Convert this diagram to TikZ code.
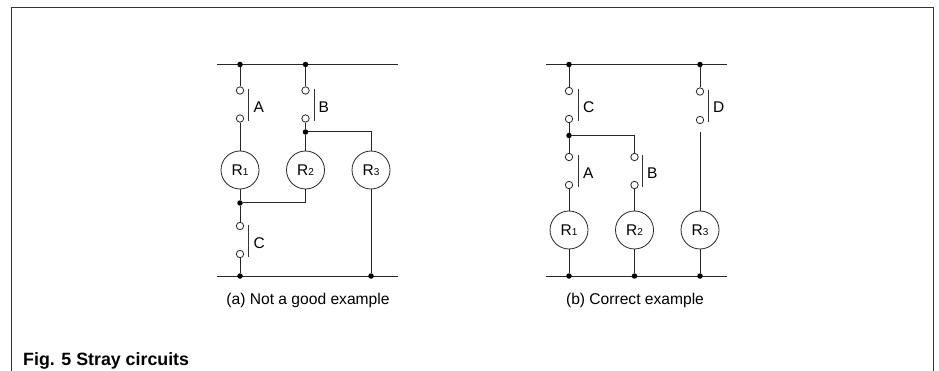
\documentclass[tikz,border=0pt]{standalone}
\usepackage{fontspec}
\setmainfont{Liberation Sans}
\newcommand{\subdigit}[1]{{\fontsize{10}{11}\selectfont #1}}
\begin{document}
\begin{tikzpicture}[x=1pt,y=-1pt,
  wire/.style={line width=1pt,black!85},
  bar/.style={line width=1pt,black!80},
  contact/.style={circle,draw=black!85,line width=0.8pt,fill=white,minimum size=7.4pt,inner sep=0pt},
  junction/.style={circle,fill=black,minimum size=5.5pt,inner sep=0pt},
  res/.style={circle,draw=black!85,line width=0.8pt,fill=white,minimum size=38pt,inner sep=0pt,font=\fontsize{15.5}{17}\selectfont},
  lab/.style={font=\fontsize{15.5}{17}\selectfont,inner sep=0pt},
  captext/.style={font=\fontsize{15.6}{18}\selectfont,inner sep=0pt}]
\useasboundingbox (0,0) rectangle (939,371);
\draw[line width=1pt,black!80] (11,371) -- (11,8) -- (933,8) -- (933,371);
\node[anchor=base west,inner sep=0pt,font=\bfseries\fontsize{17.8}{20}\selectfont] (title) at (23,365) {Fig. 5 Stray circuits};
% (a)
\coordinate (tl) at (217,64.5); \coordinate (tr) at (398,64.5);
\coordinate (bl) at (217,276); \coordinate (br) at (398,276);
\draw[wire] (tl) -- (tr); \draw[wire] (bl) -- (br);
\node[junction] (at1) at (240,64.5) {}; \node[junction] (at2) at (305.5,64.5) {};
\node[junction] (ab1) at (240,276) {}; \node[junction] (ab3) at (371,276) {};
\node[junction] (am1) at (240,203) {}; \node[junction] (am2) at (305.5,132) {};
\node[contact] (aA1) at (240,90.5) {}; \node[contact] (aA2) at (240,118.5) {};
\node[contact] (aB1) at (305.5,90.5) {}; \node[contact] (aB2) at (305.5,118.5) {};
\node[contact] (aC1) at (240,226) {}; \node[contact] (aC2) at (240,254) {};
\node[res] (aR1) at (240,170) {R\subdigit{1}};
\node[res] (aR2) at (305.5,170) {R\subdigit{2}};
\node[res] (aR3) at (371,170) {R\subdigit{3}};
\draw[wire] (at1) -- (aA1); \draw[wire] (aA2) -- (aR1); \draw[wire] (aR1) -- (am1);
\draw[wire] (am1) -- (aC1); \draw[wire] (aC2) -- (ab1);
\draw[wire] (at2) -- (aB1); \draw[wire] (aB2) -- (am2); \draw[wire] (am2) -- (aR2);
\draw[wire] (am2) -| (aR3); \draw[wire] (am1) -| (aR2); \draw[wire] (aR3) -- (ab3);
\draw[bar] (248.5,89) -- (248.5,121); \draw[bar] (314,89) -- (314,121); \draw[bar] (248.5,225) -- (248.5,257);
\node[lab,anchor=west] (aAl) at (253.5,107) {A};
\node[lab,anchor=west] (aBl) at (318.5,107) {B};
\node[lab,anchor=west] (aCl) at (253.5,243) {C};
\node[captext] (acap) at (308,300) {(a) Not a good example};
% (b)
\coordinate (tl2) at (546,64.5); \coordinate (tr2) at (727,64.5);
\coordinate (bl2) at (546,276); \coordinate (br2) at (727,276);
\draw[wire] (tl2) -- (tr2); \draw[wire] (bl2) -- (br2);
\node[junction] (bt1) at (569,64.5) {}; \node[junction] (bt3) at (700,64.5) {};
\node[junction] (bb1) at (569,276) {}; \node[junction] (bb2) at (634.5,276) {}; \node[junction] (bb3) at (700,276) {};
\node[junction] (bm) at (569,135.5) {};
\node[contact] (bC1) at (569,91) {}; \node[contact] (bC2) at (569,119) {};
\node[contact] (bD1) at (700,91.5) {}; \node[contact] (bD2) at (700,120) {};
\node[contact] (bA1) at (569,157) {}; \node[contact] (bA2) at (569,185) {};
\node[contact] (bB1) at (634.5,157) {}; \node[contact] (bB2) at (634.5,185) {};
\node[res] (bR1) at (569,230) {R\subdigit{1}};
\node[res] (bR2) at (634.5,230) {R\subdigit{2}};
\node[res] (bR3) at (700,230) {R\subdigit{3}};
\coordinate (bDw) at (700,132);
\draw[wire] (bt1) -- (bC1); \draw[wire] (bC2) -- (bm); \draw[wire] (bm) -- (bA1);
\draw[wire] (bA2) -- (bR1); \draw[wire] (bR1) -- (bb1);
\draw[wire] (bm) -| (bB1); \draw[wire] (bB2) -- (bR2); \draw[wire] (bR2) -- (bb2);
\draw[wire] (bt3) -- (bD1); \draw[wire] (bDw) -- (bR3); \draw[wire] (bR3) -- (bb3);
\draw[bar] (578,89) -- (578,121); \draw[bar] (578,155) -- (578,187); \draw[bar] (642.5,155) -- (642.5,187); \draw[bar] (708,90) -- (708,122);
\node[lab,anchor=west] (bCl) at (583,107) {C};
\node[lab,anchor=west] (bDl) at (713,107.5) {D};
\node[lab,anchor=west] (bAl) at (583,173) {A};
\node[lab,anchor=west] (bBl) at (647,173) {B};
\node[captext] (bcap) at (635,300) {(b) Correct example};
\end{tikzpicture}
\end{document}
